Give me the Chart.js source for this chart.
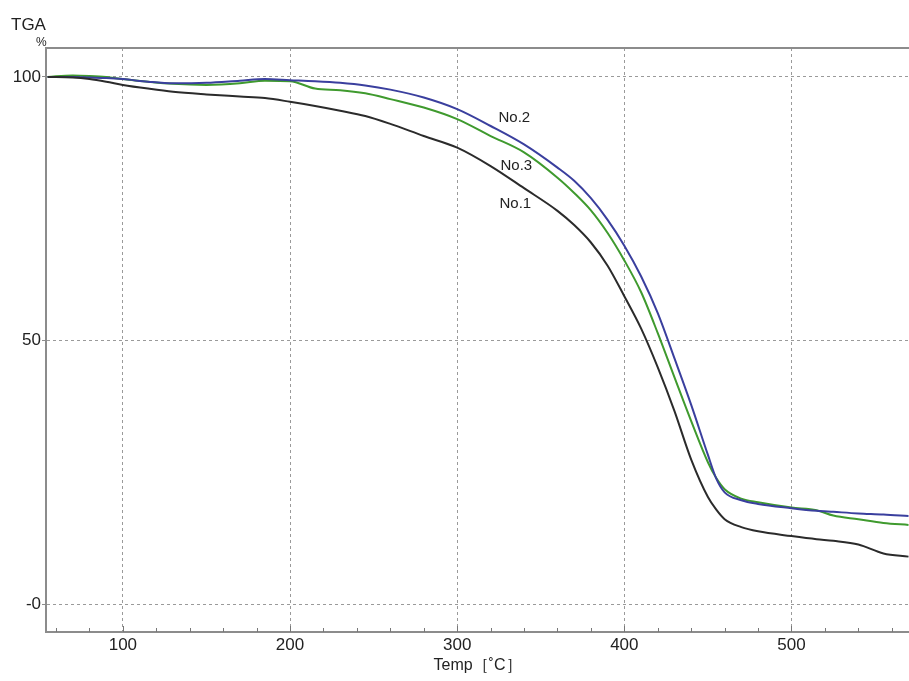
<!DOCTYPE html>
<html>
<head>
<meta charset="utf-8">
<script src="https://cdn.jsdelivr.net/npm/chart.js@4.4.0/dist/chart.umd.min.js"></script>
<style>
  html, body { margin: 0; padding: 0; background: #fff; }
  #wrap { width: 909px; height: 681px; position: relative; }
</style>
</head>
<body>
<div id="wrap"><canvas id="tga"></canvas></div>
<script>
// temperatures (°C) sampled along the curves
const temps = [55, 70, 80, 90, 100, 115, 130, 150, 170, 185, 200, 215, 230, 245, 260, 280, 300, 320, 340, 360,
  370, 380, 390, 400, 410, 420, 430, 440, 450, 455, 460, 470, 480, 500, 515, 525, 540, 555, 570];

// weight %
const no1 = [100.0, 99.9, 99.6, 99.1, 98.5, 97.8, 97.2, 96.7, 96.3, 96.0, 95.3, 94.5, 93.6, 92.6, 91.1, 88.8, 86.6, 83.1, 78.9, 74.6,
  71.9, 68.6, 64.2, 58.4, 52.3, 44.9, 36.6, 27.4, 20.3, 17.9, 16.1, 14.6, 13.8, 12.9, 12.3, 12.0, 11.3, 9.6, 9.0];
const no2 = [100.0, 100.0, 99.9, 99.8, 99.6, 99.1, 98.8, 98.9, 99.3, 99.6, 99.4, 99.2, 98.9, 98.4, 97.6, 96.1, 93.9, 90.7, 87.2, 82.8,
  80.3, 77.0, 72.9, 68.0, 62.2, 55.2, 46.6, 37.8, 28.3, 23.8, 21.2, 19.7, 19.0, 18.2, 17.7, 17.5, 17.2, 17.0, 16.7];
const no3 = [100.0, 100.3, 100.2, 100.0, 99.6, 99.1, 98.7, 98.5, 98.8, 99.3, 99.2, 97.8, 97.5, 96.9, 95.8, 94.2, 92.0, 88.8, 85.7, 80.9,
  78.0, 74.7, 70.4, 65.2, 59.2, 51.4, 43.0, 34.7, 26.9, 23.9, 21.8, 20.0, 19.3, 18.3, 17.8, 16.8, 16.1, 15.4, 15.0];

const seriesNames = ["No.1", "No.2", "No.3"];
const xTicks = [60, 80, 100, 120, 140, 160, 180, 200, 220, 240, 260, 280, 300, 320, 340, 360, 380, 400, 420, 440, 460, 480, 500, 520, 540, 560];
const yTicks = [0, 50, 100];
// where the curve names sit, in data units [temp, %]
const labelPos = [[334.8, 75.9], [334.2, 92.2], [335.4, 83.1]];

const FONT = "'Liberation Sans', Arial, sans-serif";
const colors = ["#2b2b2b", "#3a3f9e", "#3f9a2e"];

const toPts = ys => temps.map((t, i) => ({ x: t, y: ys[i] }));

// extra drawing: frame, minor ticks, curve names, TGA/% header
const decor = {
    id: "decor",
    afterDraw(chart) {
        const { ctx, chartArea: a, scales } = chart;
        ctx.save();
        ctx.strokeStyle = "#8c8c8c";
        ctx.lineWidth = 2;
        ctx.beginPath();
        ctx.moveTo(a.left, a.top);
        ctx.lineTo(a.right, a.top);
        ctx.stroke();

        // small tick marks on x axis (inside)
        ctx.lineWidth = 1;
        ctx.strokeStyle = "#777";
        for (const v of xTicks) {
            const px = Math.round(scales.x.getPixelForValue(v)) + 0.5;
            ctx.beginPath();
            ctx.moveTo(px, a.bottom);
            ctx.lineTo(px, a.bottom - (v % 100 === 0 ? 6 : 4));
            ctx.stroke();
        }

        ctx.fillStyle = "#222";
        ctx.font = "15px " + FONT;
        ctx.textAlign = "center";
        ctx.textBaseline = "middle";
        labelPos.forEach((p, i) => {
            ctx.fillText(seriesNames[i], scales.x.getPixelForValue(p[0]), scales.y.getPixelForValue(p[1]));
        });

        ctx.font = "17px " + FONT;
        ctx.textAlign = "left";
        ctx.textBaseline = "alphabetic";
        ctx.fillText("TGA", 11, 30);
        ctx.font = "12px " + FONT;
        ctx.fillText("%", 36, 46);
        ctx.restore();
    }
};

new Chart(document.getElementById("tga"), {
    type: "line",
    data: {
        datasets: [no1, no2, no3].map((ys, i) => ({
            label: seriesNames[i],
            data: toPts(ys),
            borderColor: colors[i],
            borderWidth: 2,
            pointRadius: 0,
            cubicInterpolationMode: "monotone",
            fill: false,
        })),
    },
    options: {
        responsive: true,
        maintainAspectRatio: false,
        animation: false,
        layout: { padding: { top: 48, right: 0, left: 0, bottom: 0 } },
        plugins: { legend: { display: false }, tooltip: { enabled: false } },
        scales: {
            x: {
                type: "linear",
                min: 54,
                max: 570.3,
                afterBuildTicks: s => { s.ticks = xTicks.map(v => ({ value: v })); },
                afterFit: s => { s.height = 49; },
                ticks: {
                    autoSkip: false,
                    maxRotation: 0,
                    padding: 3,
                    color: "#222",
                    font: { family: FONT, size: 17 },
                    callback: v => (v % 100 === 0 ? String(v) : ""),
                },
                grid: {
                    drawTicks: false,
                    color: c => (c.tick && c.tick.value % 100 === 0 ? "#9a9a9a" : "rgba(0,0,0,0)"),
                    lineWidth: 1,
                },
                border: { display: true, color: "#8c8c8c", width: 2, dash: [3, 3] },
                title: {
                    display: true,
                    text: "Temp［˚C］",
                    color: "#222",
                    font: { family: FONT, size: 16 },
                    padding: { top: 0, bottom: 6 },
                },
            },
            y: {
                type: "linear",
                min: -5.3,
                max: 105.5,
                afterBuildTicks: s => { s.ticks = yTicks.map(v => ({ value: v })); },
                afterFit: s => { s.width = 46; },
                ticks: {
                    padding: 1,
                    color: "#222",
                    font: { family: FONT, size: 17 },
                    callback: v => (v === 0 ? "-0" : String(v)),
                },
                grid: {
                    color: "#9a9a9a",
                    tickColor: "#8c8c8c",
                    tickLength: 4,
                    lineWidth: 1,
                },
                border: { display: true, color: "#8c8c8c", width: 2, dash: [3, 3] },
            },
        },
    },
    plugins: [decor],
});
</script>
</body>
</html>
